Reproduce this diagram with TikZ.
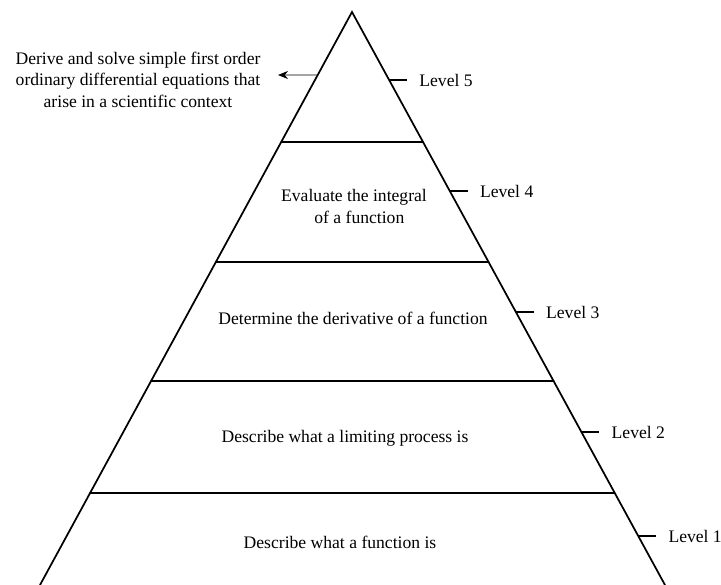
\documentclass[tikz,border=0pt]{standalone}
\usepackage{fontspec}
\setmainfont{Liberation Serif}
\usetikzlibrary{arrows.meta,calc}
\begin{document}
\begin{tikzpicture}[x=0.75pt,y=-0.75pt,
  edge/.style={line width=1.3pt, line cap=round},
  tickmark/.style={line width=1.1pt},
  pointer/.style={line width=0.6pt, -{Stealth[length=7.5pt,width=6pt]}},
  tier/.style={font=\fontsize{13.2}{15.8}\selectfont, align=center, inner sep=0pt},
  lvl/.style={font=\fontsize{13.2}{15.8}\selectfont, anchor=west, inner sep=0pt},
  goal/.style={font=\fontsize{13.2}{16.1}\selectfont, align=center, inner sep=0pt}]
\useasboundingbox (0,0) rectangle (721,585);
% pyramid outline
\coordinate (apex) at (352,12);
\coordinate (bl) at (40,585);
\coordinate (br) at (665,585);
\draw[edge] (bl) -- (apex) -- (br);
% tier separators
\foreach \t/\n in {0.2269/a,0.4363/b,0.6440/c,0.8394/d}{
  \coordinate (L\n) at ($(apex)!\t!(bl)$);
  \coordinate (R\n) at ($(apex)!\t!(br)$);
  \draw[edge] (L\n) -- (R\n);
}
% level ticks and labels
\foreach \t/\k in {0.1187/5,0.3124/4,0.5236/3,0.7330/2,0.9145/1}{
  \coordinate (T\k) at ($(apex)!\t!(br)$);
  \coordinate (E\k) at ($(T\k)+(18,0)$);
  \draw[tickmark] (T\k) -- (E\k);
  \node[lvl] (lab\k) at ($(E\k)+(12,0)$) {Level \k};
}
% tier texts
\node[tier] (t4) at (354,206.5) {Evaluate the integral\\\hspace*{8pt}of a function};
\node[tier] (t3) at (353,318) {Determine the derivative of a function};
\node[tier] (t2) at (345,438) {Describe what a limiting process is};
\node[tier] (t1) at (340,542) {Describe what a function is};
% top goal with arrow
\coordinate (src) at ($(apex)!0.11!(bl)$);
\coordinate (tip) at (278,75);
\draw[pointer] (src) -- (tip);
\node[goal] (goal) at (138,79.5) {Derive and solve simple first order\\ordinary differential equations that\\arise in a scientific context};
\end{tikzpicture}
\end{document}
